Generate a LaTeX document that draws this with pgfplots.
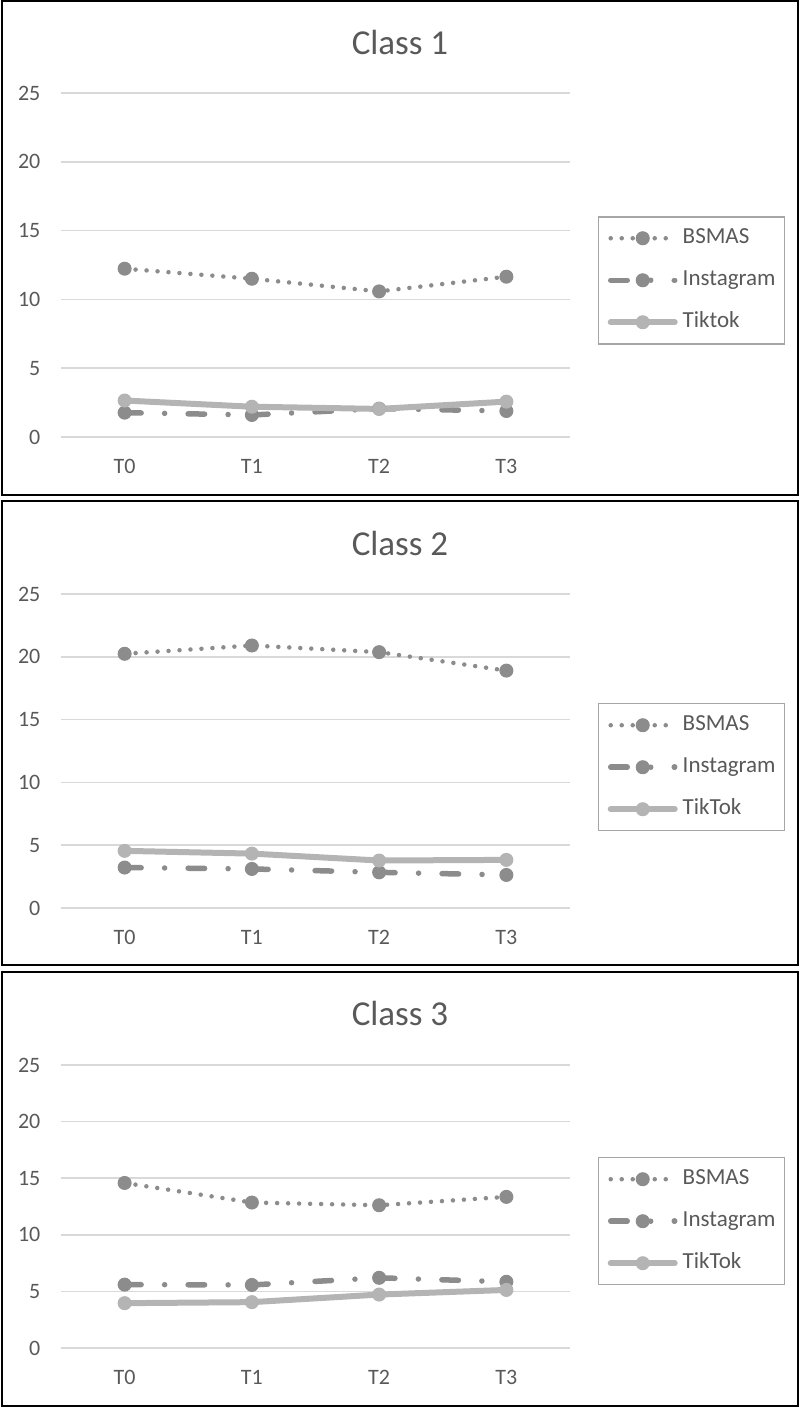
\documentclass[border=0pt]{standalone}
\usepackage{fontspec}
\setmainfont{Carlito}
\usepackage{pgfplots}
\pgfplotsset{compat=1.18}
\definecolor{txt}{HTML}{595959}
\definecolor{gridc}{HTML}{D9D9D9}
\definecolor{sA}{HTML}{8C8C8C}
\definecolor{sB}{HTML}{8C8C8C}
\definecolor{sC}{HTML}{B4B4B4}
\definecolor{lgd}{HTML}{A6A6A6}

\pgfplotsset{
 panel/.style={
  scale only axis, width=254.5pt,
  xmin=-0.5, xmax=3.5, ymin=0, ymax=25,
  xtick={0,1,2,3}, xticklabels={T0,T1,T2,T3},
  ytick={0,5,10,15,20,25},
  ymajorgrids, grid style={gridc, line width=0.75pt},
  axis line style={draw=none},
  major tick length=0pt,
  tick label style={font=\fontsize{11}{13}\selectfont, text=txt},
  /pgf/number format/assume math mode=true,
  xticklabel style={anchor=base, yshift=-18.25pt},
  yticklabel style={anchor=east, xshift=-6.8pt},
  clip=false,
  legend cell align=left,
  legend style={anchor=north west, draw=lgd, line width=0.75pt,
    inner xsep=4.5pt, inner ysep=5.5pt,
    font=\fontsize{11.5}{13}\selectfont, text=txt,
    nodes={text height=8pt, text depth=2.5pt, inner sep=0pt},
    row sep=10.5pt,
    /tikz/every odd column/.append style={column sep=2.5pt}},
  legend image code/.code={\draw[mark repeat=2,mark phase=2,#1] plot coordinates {(0pt,0pt) (16pt,0pt) (32pt,0pt)};},
 },
 bsmas/.style={color=sA, line width=2.25pt, line cap=round, dash pattern=on 0pt off 5.5pt, mark=*, mark size=3.25pt, mark options={solid, line width=0.5pt}},
 insta/.style={color=sB, line width=2.75pt, line cap=round, dash pattern=on 8.25pt off 11.75pt on 0pt off 11.75pt, mark=*, mark size=3.25pt, mark options={solid, line width=0.5pt}},
 tiktok/.style={color=sC, line width=3pt, line cap=round, line join=round, mark=*, mark size=3.25pt, mark options={solid, line width=0.5pt}},
}

\begin{document}
\begin{tikzpicture}
\useasboundingbox (0pt,0pt) rectangle (400pt,704pt);
% frames
\draw[black, line width=1.25pt] (1pt,456.5pt) rectangle (399pt,703.5pt);
\draw[black, line width=1.25pt] (1pt,221.5pt) rectangle (399pt,453.5pt);
\draw[black, line width=1.25pt] (1pt,1pt) rectangle (399pt,218pt);
% titles
\node[text=txt, font=\fontsize{17.5}{20}\selectfont] at (200pt,683pt) {Class 1};
\node[text=txt, font=\fontsize{17.5}{20}\selectfont] at (200pt,432.5pt) {Class 2};
\node[text=txt, font=\fontsize{17.5}{20}\selectfont] at (200pt,197.5pt) {Class 3};

% Panel 1
\begin{axis}[panel, at={(30.5pt,485.5pt)}, anchor=south west, height=172pt,
  legend style={at={(1.055,0.6424)}}]
\addplot[bsmas] coordinates {(0,12.23) (1,11.5) (2,10.58) (3,11.65)};
\addlegendentry{BSMAS}
\addplot[insta] coordinates {(0,1.77) (1,1.6) (2,2.06) (3,1.89)};
\addlegendentry{Instagram}
\addplot[tiktok] coordinates {(0,2.65) (1,2.2) (2,2.04) (3,2.57)};
\addlegendentry{Tiktok}
\end{axis}

% Panel 2
\begin{axis}[panel, at={(30.5pt,250pt)}, anchor=south west, height=157pt,
  legend style={at={(1.055,0.6529)}}]
\addplot[bsmas] coordinates {(0,20.24) (1,20.9) (2,20.37) (3,18.9)};
\addlegendentry{BSMAS}
\addplot[insta] coordinates {(0,3.22) (1,3.11) (2,2.84) (3,2.63)};
\addlegendentry{Instagram}
\addplot[tiktok] coordinates {(0,4.55) (1,4.33) (2,3.78) (3,3.83)};
\addlegendentry{TikTok}
\end{axis}

% Panel 3
\begin{axis}[panel, at={(30.5pt,30pt)}, anchor=south west, height=141.5pt,
  legend style={at={(1.055,0.675)}}]
\addplot[bsmas] coordinates {(0,14.58) (1,12.85) (2,12.61) (3,13.35)};
\addlegendentry{BSMAS}
\addplot[insta] coordinates {(0,5.6) (1,5.57) (2,6.2) (3,5.85)};
\addlegendentry{Instagram}
\addplot[tiktok] coordinates {(0,3.96) (1,4.05) (2,4.72) (3,5.13)};
\addlegendentry{TikTok}
\end{axis}
\end{tikzpicture}
\end{document}
